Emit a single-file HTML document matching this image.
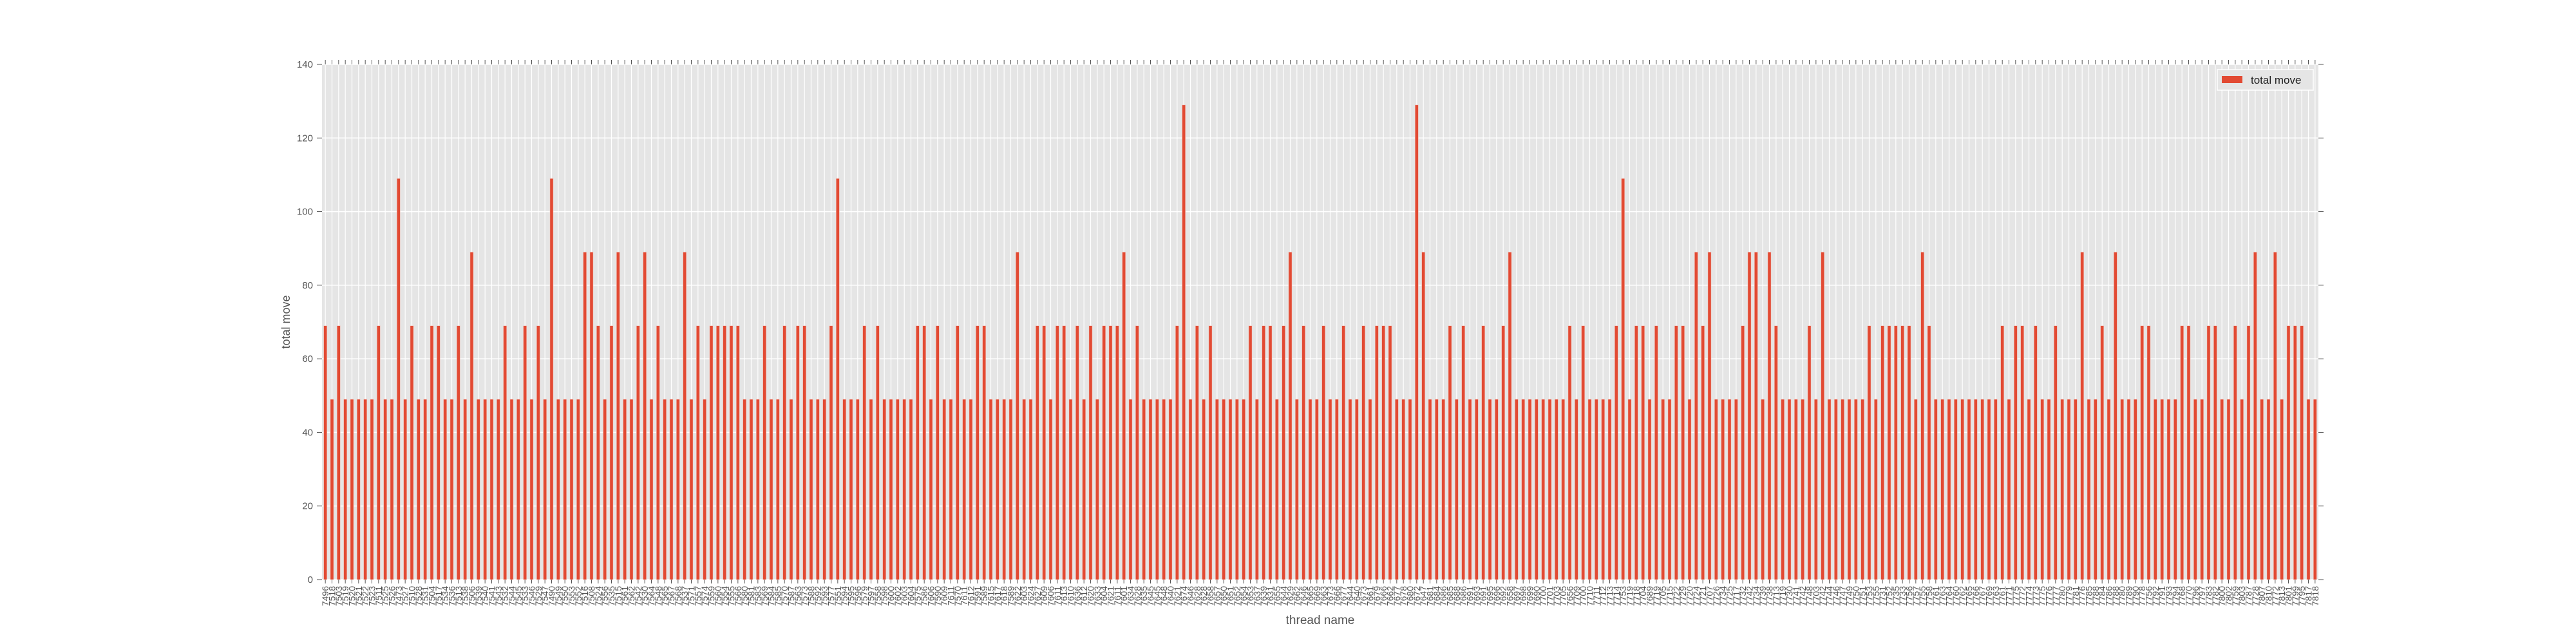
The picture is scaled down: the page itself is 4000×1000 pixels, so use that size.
<!DOCTYPE html>
<html><head><meta charset="utf-8"><style>
html,body{margin:0;padding:0;background:#fff;}
svg{display:block;font-family:"Liberation Sans","DejaVu Sans",sans-serif;}
</style></head><body>
<svg id="chart" width="4000" height="1000" viewBox="0 0 4000 1000" xmlns="http://www.w3.org/2000/svg">
<rect x="500" y="100" width="3100" height="800" fill="#e5e5e5"/>
<g id="grid"></g>
<g id="bars"></g>
<g id="axes"></g>
<text x="450" y="500" transform="rotate(-90 450 500)" text-anchor="middle" font-size="18" fill="#555">total move</text>
<text x="2050" y="969" text-anchor="middle" font-size="19" fill="#555">thread name</text>
<g>
<rect x="3443" y="108" width="149" height="32" fill="#e5e5e5" stroke="#fff" stroke-width="1.5"/>
<rect x="3450" y="118" width="32" height="11" fill="#e24a33"/>
<text x="3495" y="130" font-size="17" fill="#222">total move</text>
</g>
</svg>
<script>
const values = [
69,49,69,49,49,49,49,49,69,49,49,109,49,69,49,49,69,69,49,49,69,49,89,49,49,49,49,69,49,49,69,49,69,49,109,49,49,49,49,89,89,69,49,69,89,49,49,69,89,49,69,49,49,49,89,49,69,49,
69,69,69,69,69,49,49,49,69,49,49,69,49,69,69,49,49,49,69,109,49,49,49,69,49,69,49,49,49,49,49,69,69,49,69,49,49,69,49,49,69,69,49,49,49,49,89,49,49,69,69,49,69,
69,49,69,49,69,49,69,69,69,89,49,69,49,49,49,49,49,69,129,49,69,49,69,49,49,49,49,49,69,49,69,69,49,69,89,49,69,49,49,69,49,49,69,49,49,69,49,69,69,69,49,49,49,129,
89,49,49,49,69,49,69,49,49,69,49,49,69,89,49,49,49,49,49,49,49,49,69,49,69,49,49,49,49,69,109,49,69,69,49,69,49,49,69,69,49,89,69,89,49,49,49,49,69,89,89,49,89,69,
49,49,49,49,69,49,89,49,49,49,49,49,49,69,49,69,69,69,69,69,49,89,69,49,49,49,49,49,49,49,49,49,49,69,49,69,69,49,69,49,49,69,49,49,49,89,49,49,69,49,89,49,
49,49,69,69,49,49,49,49,69,69,49,49,69,69,49,49,69,49,69,89,49,49,89,49,69,69,69,49,49
];
const categories = [
"7496","7518","7503","7519","7520","7521","7522","7523","7511","7525","7526","7473","7527","7510","7528","7531","7504","7517","7534","7536","7513","7538","7506","7539","7540","7541","7543","7532","7544","7545","7533","7546","7529","7547","7490","7549","7550","7553","7552","7516","7508","7524","7556","7535","7515","7561","7562","7542","7530","7564","7548","7565","7567","7568","7537","7571","7557",
"7574","7559","7560","7554","7555","7566","7580","7581","7583","7569","7584","7585","7570","7587","7563","7573","7588","7592","7593","7577","7551","7594","7595","7596","7579","7597","7558","7598","7600","7602","7603","7604","7575","7586","7606","7590","7609","7611","7570","7611","7612","7591","7589","7615","7617","7618","7589","7622","7603","7624","7627","7609","7606","7611",
"7613","7610","7636","7612","7620","7633","7604","7621","7611","7601","7634","7628","7635","7645","7645","7648","7640","7621","7674","7646","7628","7628","7658","7657","7650","7651","7652","7654","7653","7637","7639","7631","7655","7644","7629","7662","7646","7665","7669","7663","7673","7666","7677","7644","7640","7673","7661","7679","7666","7662","7677","7678","7680","7672",
"7647","7681","7684","7686","7685","7688","7686","7691","7693","7691","7695","7696","7692","7658","7697","7698","7699","7690","7700","7701","7703","7705","7656","7709","7700","7710","7711","7712","7713","7714","7753","7719","7718","7704","7689","7719","7705","7715","7722","7729","7720","7724","7721","7707","7726","7734","7725","7717","7732","7742","7734","7739","7738","7713",
"7719","7730","7741","7742","7748","7703","7742","7744","7746","7747","7749","7750","7751","7753","7755","7731","7752","7735","7733","7756","7757","7755","7758","7761","7763","7764","7760","7762","7765","7766","7767","7769","7763","7761","7771","7775","7772","7774","7773","7775","7776","7777","7780","7779","7781","7776","7785","7788","7784","7786","7788","7780",
"7789","7790","7778","7756","7792","7791","7793","7794","7768","7770","7796","7797","7783","7782","7800","7802","7759","7803","7787","7728","7807","7810","7772","7813","7801","7799","7795","7817","7818"
];
const yTicks = [0,20,40,60,80,100,120,140];

const NS="http://www.w3.org/2000/svg";
const X0=500,X1=3600,Y0=900,Y1=100,YMAX=140;
const n=values.length, step=(X1-X0)/n;
function xScale(i){return X0+(i+0.5)*step;}
function yScale(v){return Y0-(v/YMAX)*(Y0-Y1);}
function mk(tag,attrs,parent){const e=document.createElementNS(NS,tag);for(const k in attrs)e.setAttribute(k,attrs[k]);parent.appendChild(e);return e;}
const grid=document.getElementById('grid'),bars=document.getElementById('bars'),axes=document.getElementById('axes');

yTicks.forEach(t=>{
  const y=yScale(t);
  const g=mk('line',{x1:X0,x2:X1,y1:y,y2:y,stroke:'#fff','stroke-width':1.5},grid);
  
  
  const tl=mk('line',{x1:X0-8,x2:X0,y1:y,y2:y,stroke:'#555','stroke-width':1},axes);
  
  
  const tr=mk('line',{x1:X1,x2:X1+8,y1:y,y2:y,stroke:'#555','stroke-width':1},axes);
  
  
  const lb=mk('text',{x:X0-14,y:y+5,'text-anchor':'end','font-size':15,fill:'#555'},axes);
  
  
  lb.textContent=String(t);
});

values.forEach((v,i)=>{
  const x=xScale(i);
  const gl=mk('line',{x1:x,x2:x,y1:Y1,y2:Y0,stroke:'#fff','stroke-width':1.2},grid);
  
  
  const bw=step*0.5;
  const b=mk('rect',{x:x-bw/2,y:yScale(v),width:bw,height:Y0-yScale(v),fill:'#e24a33',stroke:'#f2cfc8','stroke-width':0.6},bars);
  
  
  const tt=mk('line',{x1:x,x2:x,y1:Y1-7,y2:Y1,stroke:'#555','stroke-width':1},axes);
  
  
  const tb=mk('line',{x1:x,x2:x,y1:Y0,y2:Y0+6,stroke:'#555','stroke-width':1},axes);
  
  
  const lb=mk('text',{x:x+5,y:Y0+10,'text-anchor':'end','font-size':14,fill:'#555',transform:'rotate(-90 '+(x+5)+' '+(Y0+10)+')'},axes);
  
  
  lb.textContent=categories[i];
});
</script>
</body></html>
